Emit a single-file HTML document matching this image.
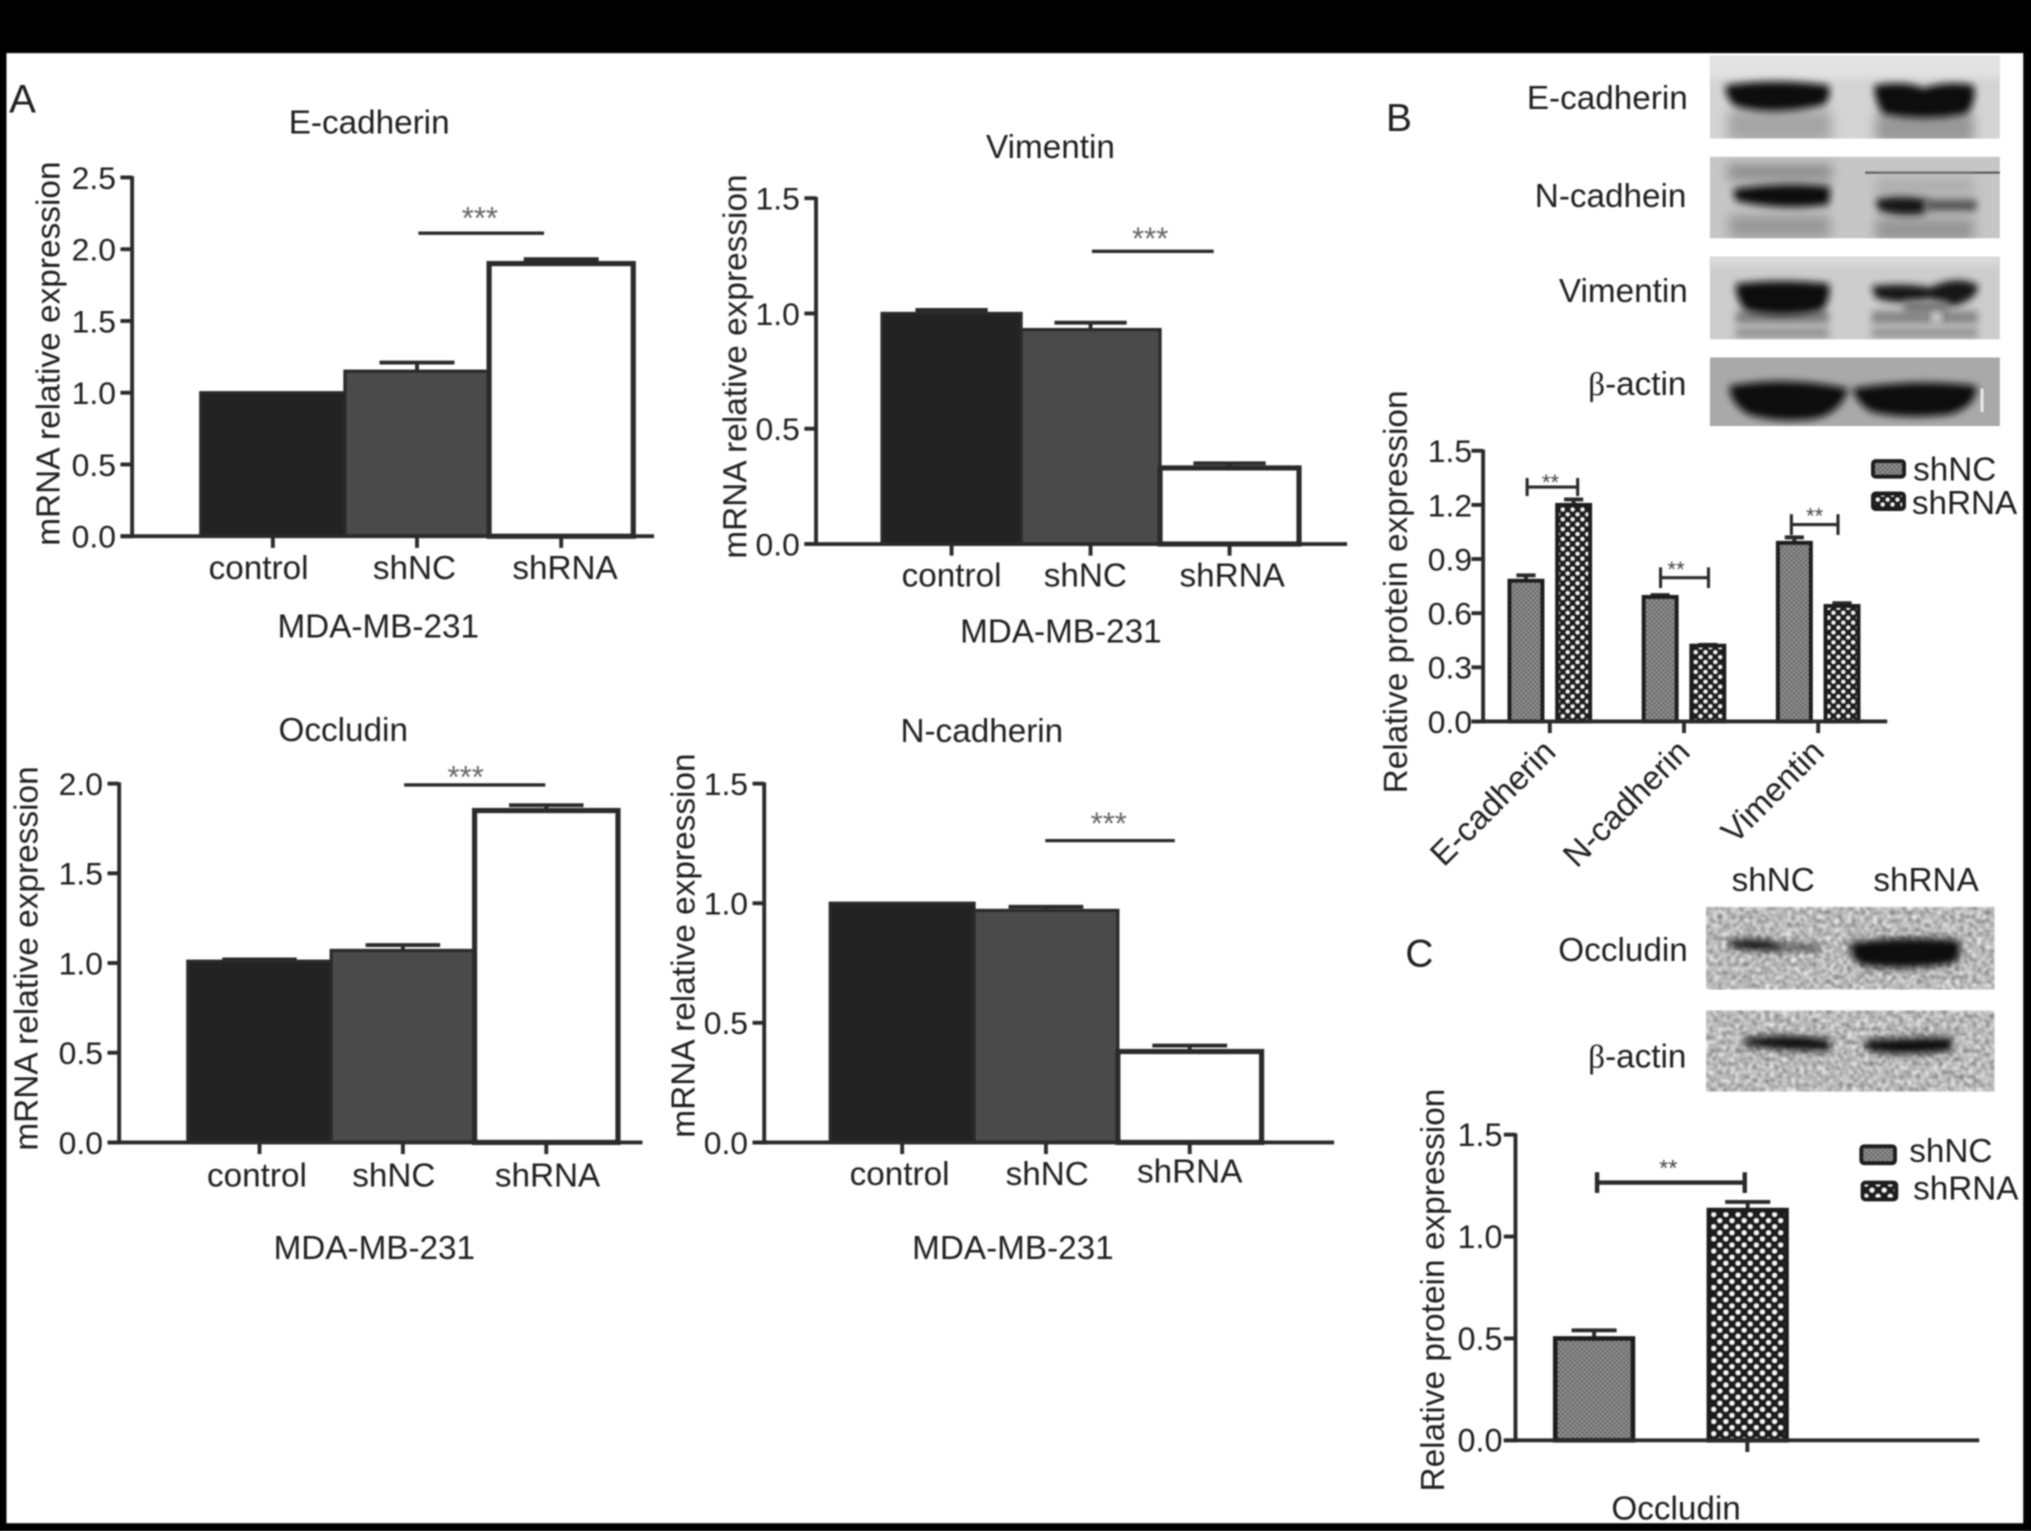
<!DOCTYPE html>
<html lang="en">
<head>
<meta charset="utf-8">
<title>mRNA and protein expression panels</title>
<style>
  html, body { margin: 0; padding: 0; background: #000; }
  body { width: 2031px; height: 1531px; overflow: hidden; }
  #figure { display: block; width: 2031px; height: 1531px; }
  #figure text { font-family: "Liberation Sans", "DejaVu Sans", sans-serif; fill: #202020; }
  #content { filter: blur(0.55px); }
</style>
</head>
<body>
<svg id="figure" viewBox="0 0 1568 1182" preserveAspectRatio="none">
  <defs>
    <filter id="soft" x="-30%" y="-60%" width="160%" height="220%"><feGaussianBlur stdDeviation="2.8"/></filter>
    <filter id="softer" x="-30%" y="-100%" width="160%" height="300%"><feGaussianBlur stdDeviation="4.5"/></filter>
    <filter id="noise" x="0" y="0" width="100%" height="100%" color-interpolation-filters="sRGB">
      <feTurbulence type="fractalNoise" baseFrequency="0.3" numOctaves="2" seed="7"/>
      <feColorMatrix type="matrix" values="0.85 0 0 0 0.3  0.85 0 0 0 0.3  0.85 0 0 0 0.3  0 0 0 0 1"/>
      <feGaussianBlur stdDeviation="0.8"/>
    </filter>
    <pattern id="fine-hatch" width="3.6" height="3.6" patternUnits="userSpaceOnUse">
      <rect width="3.6" height="3.6" fill="#959595"/>
      <rect width="1.8" height="1.8" fill="#666666"/>
      <rect x="1.8" y="1.8" width="1.8" height="1.8" fill="#666666"/>
    </pattern>
    <pattern id="dots-b" width="7.6" height="7.6" patternUnits="userSpaceOnUse">
      <rect width="7.6" height="7.6" fill="#1c1c1c"/>
      <circle cx="1.9" cy="1.9" r="1.75" fill="#f4f4f4"/>
      <circle cx="5.7" cy="5.7" r="1.75" fill="#f4f4f4"/>
    </pattern>
    <pattern id="dots-c" width="9.4" height="9.4" patternUnits="userSpaceOnUse">
      <rect width="9.4" height="9.4" fill="#1c1c1c"/>
      <circle cx="2.35" cy="2.35" r="2.1" fill="#f6f6f6"/>
      <circle cx="7.05" cy="7.05" r="2.1" fill="#f6f6f6"/>
    </pattern>
    <clipPath id="blot-e"><rect x="1320" y="43" width="224" height="64"/></clipPath>
    <clipPath id="blot-n"><rect x="1320" y="121" width="224" height="63"/></clipPath>
    <clipPath id="blot-v"><rect x="1320" y="198" width="224" height="64"/></clipPath>
    <clipPath id="blot-a"><rect x="1320" y="276" width="224" height="53"/></clipPath>
    <clipPath id="blot-o"><rect x="1317" y="700" width="223" height="64"/></clipPath>
    <clipPath id="blot-c"><rect x="1317" y="780" width="223" height="63"/></clipPath>
  </defs>
  <g id="content">
    <rect x="0" y="0" width="1568" height="1182" fill="#ffffff"/>

    <g id="blots">
      <g clip-path="url(#blot-e)">
        <rect x="1320" y="43" width="224" height="64" fill="#d4d4d4"/>
        <rect x="1315" y="38" width="234" height="22" fill="#e2e2e2" filter="url(#soft)"/>
        <rect x="1334" y="85" width="80" height="24" fill="#a4a4a4" filter="url(#softer)"/>
        <rect x="1448" y="87" width="76" height="24" fill="#989898" filter="url(#softer)"/>
        <path d="M1332 66 Q1370 60 1412 66 Q1414 76 1408 81 Q1370 90 1340 82 Q1332 76 1332 66Z" fill="#0d0d0d" filter="url(#soft)"/>
        <path d="M1447 66 Q1470 62 1485 68 Q1505 62 1524 66 Q1526 80 1518 88 Q1485 94 1454 88 Q1447 78 1447 66Z" fill="#0d0d0d" filter="url(#soft)"/>
      </g>
      <g clip-path="url(#blot-n)">
        <rect x="1320" y="121" width="224" height="63" fill="#c6c6c6"/>
        <rect x="1334" y="127" width="80" height="12" fill="#8a8a8a" filter="url(#softer)"/>
        <rect x="1335" y="166" width="78" height="18" fill="#989898" filter="url(#softer)"/>
        <rect x="1448" y="168" width="76" height="18" fill="#959595" filter="url(#softer)"/>
        <rect x="1440" y="132.5" width="104" height="1.6" fill="#555"/>
        <rect x="1448" y="137" width="76" height="14" fill="#adadad" filter="url(#softer)"/>
        <path d="M1338 146 Q1375 140 1413 144 L1412 158 Q1375 163 1340 155Z" fill="#111" filter="url(#soft)"/>
        <path d="M1448 154 Q1468 150 1488 154 L1486 165 Q1465 168 1450 162Z" fill="#161616" filter="url(#soft)"/>
        <rect x="1486" y="154" width="40" height="9" fill="#555" filter="url(#soft)"/>
      </g>
      <g clip-path="url(#blot-v)">
        <rect x="1320" y="198" width="224" height="64" fill="#cdcdcd"/>
        <rect x="1315" y="193" width="234" height="12" fill="#dadada" filter="url(#soft)"/>
        <rect x="1340" y="240" width="72" height="10" fill="#808080" filter="url(#soft)"/>
        <rect x="1340" y="253" width="72" height="8" fill="#929292" filter="url(#soft)"/>
        <rect x="1445" y="240" width="82" height="10" fill="#858585" filter="url(#soft)"/>
        <rect x="1445" y="253" width="82" height="8" fill="#959595" filter="url(#soft)"/>
        <path d="M1340 219 Q1375 215 1412 219 Q1414 232 1406 240 Q1375 246 1348 240 Q1340 232 1340 219Z" fill="#0e0e0e" filter="url(#soft)"/>
        <path d="M1445 221 Q1470 218 1490 222 Q1510 212 1527 220 Q1528 230 1510 236 Q1500 236 1490 231 Q1465 236 1448 230Z" fill="#121212" filter="url(#soft)"/>
        <rect x="1470" y="232" width="34" height="10" fill="#777" filter="url(#soft)"/>
        <circle cx="1495" cy="245" r="4" fill="#e4e4e4" filter="url(#soft)"/>
      </g>
      <g clip-path="url(#blot-a)">
        <rect x="1320" y="276" width="224" height="53" fill="#a9a9a9"/>
        <path d="M1335 298 Q1380 290 1427 300 Q1420 322 1395 324 Q1370 326 1350 320 Q1336 312 1335 298Z" fill="#0d0d0d" filter="url(#soft)"/>
        <path d="M1430 300 Q1480 292 1526 298 Q1526 314 1505 320 Q1470 324 1445 318 Q1434 312 1430 300Z" fill="#0d0d0d" filter="url(#soft)"/>
        <rect x="1529" y="300" width="2.4" height="18" fill="#e8e8e8"/>
      </g>
      <g clip-path="url(#blot-o)">
        <rect x="1317" y="700" width="223" height="64" fill="#bdbdbd" filter="url(#noise)"/>
        <path d="M1335 727 Q1355 722 1378 730 L1378 734 Q1350 734 1335 731Z" fill="#111" filter="url(#soft)"/>
        <rect x="1378" y="729" width="27" height="5" fill="#444" filter="url(#soft)"/>
        <path d="M1428 728 Q1470 722 1512 726 Q1516 738 1508 744 Q1470 750 1436 745 Q1428 738 1428 728Z" fill="#0a0a0a" filter="url(#soft)"/>
      </g>
      <g clip-path="url(#blot-c)">
        <rect x="1317" y="780" width="223" height="63" fill="#b6b6b6" filter="url(#noise)"/>
        <path d="M1346 802 Q1380 797 1413 803 L1413 811 Q1380 812 1346 807Z" fill="#111" filter="url(#soft)"/>
        <path d="M1440 803 Q1470 801 1507 801 L1507 811 Q1470 816 1441 811Z" fill="#111" filter="url(#soft)"/>
      </g>
    </g>

    <g id="charts"></g>

    <g>
      <rect x="0" y="0" width="1568" height="41" fill="#000"/>
      <rect x="0" y="0" width="5" height="1182" fill="#000"/>
      <rect x="1562" y="0" width="6" height="1182" fill="#000"/>
      <rect x="0" y="1176" width="1568" height="6" fill="#000"/>
    </g>
  </g>
</svg>
<script>
// ---- chart data ----
const groupLabels = ['control', 'shNC', 'shRNA'];

const ecadValues = [1.0, 1.15, 1.9];
const ecadErrors = [0, 0.06, 0.03];
const ecadTicks = ['0.0', '0.5', '1.0', '1.5', '2.0', '2.5'];

const vimValues = [1.0, 0.93, 0.33];
const vimErrors = [0.015, 0.03, 0.02];
const vimTicks = ['0.0', '0.5', '1.0', '1.5'];

const occValues = [1.01, 1.07, 1.85];
const occErrors = [0.01, 0.03, 0.03];
const occTicks = ['0.0', '0.5', '1.0', '1.5', '2.0'];

const ncadValues = [1.0, 0.97, 0.38];
const ncadErrors = [0, 0.015, 0.025];
const ncadTicks = ['0.0', '0.5', '1.0', '1.5'];

const proteinCategories = ['E-cadherin', 'N-cadherin', 'Vimentin'];
const proteinNcValues = [0.78, 0.69, 0.99];
const proteinNcErrors = [0.03, 0.01, 0.03];
const proteinRnaValues = [1.2, 0.42, 0.64];
const proteinRnaErrors = [0.03, 0.005, 0.015];
const proteinTicks = ['0.0', '0.3', '0.6', '0.9', '1.2', '1.5'];

const occludinCategory = ['Occludin'];
const occludinNcValues = [0.5];
const occludinNcErrors = [0.04];
const occludinRnaValues = [1.13];
const occludinRnaErrors = [0.04];
const occludinTicks = ['0.0', '0.5', '1.0', '1.5'];

// ---- helpers ----
const SVG_NS = 'http://www.w3.org/2000/svg';
const chartsRoot = document.getElementById('charts');
const INK = '#2a2a2a';
const TEXT_SIZE = 25.7;

function make(tag, attrs, parent) {
  const el = document.createElementNS(SVG_NS, tag);
  for (const k in attrs) el.setAttribute(k, attrs[k]);
  parent.appendChild(el);
  return el;
}
function line(parent, x1, y1, x2, y2, w) {
  return make('line', { x1: x1, y1: y1, x2: x2, y2: y2, stroke: INK, 'stroke-width': w }, parent);
}
function label(parent, str, x, y, size, anchor, rotate) {
  const attrs = { x: x, y: y, 'font-size': size, 'text-anchor': anchor || 'middle' };
  if (rotate) attrs.transform = 'rotate(' + rotate + ' ' + x + ' ' + y + ')';
  const el = make('text', attrs, parent);
  el.textContent = str;
  return el;
}
function linearY(value, cfg) {
  return cfg.y0 - (value / cfg.max) * (cfg.y0 - cfg.yTop);
}

function drawYAxis(g, cfg, ticks) {
  const axis = line(g, cfg.axisX, cfg.yTop - 1, cfg.axisX, cfg.y0 + 1.5, 3);
  
  
  ticks.forEach(function (t) {
    const y = linearY(parseFloat(t), cfg);
    const mark = line(g, cfg.axisX - 9, y, cfg.axisX, y, 3);
    
    
    const txt = label(g, t, cfg.axisX - cfg.tickGap, y + 8.8, cfg.tickFont, 'end');
    
    
  });
  const title = label(g, cfg.yTitle, cfg.yTitleX, cfg.yTitleY, cfg.yTitleFont, 'middle', -90);
  
  
}

function drawXAxis(g, cfg) {
  const axis = line(g, cfg.axisX - 9, cfg.y0, cfg.xEnd, cfg.y0, 3);
  
  
}

function drawErrorBar(g, cx, value, err, capW, cfg) {
  if (err <= 0) return;
  const yTop = linearY(value + err, cfg);
  const yBase = linearY(value, cfg);
  const stem = line(g, cx, yBase, cx, yTop, 3);
  
  
  const cap = line(g, cx - capW / 2, yTop, cx + capW / 2, yTop, 3);
  
  
}

function drawSignificanceLine(g, cfg) {
  const bar = line(g, cfg.sigX1, cfg.sigY, cfg.sigX2, cfg.sigY, 2.6);
  
  
  const stars = label(g, '***', (cfg.sigX1 + cfg.sigX2) / 2 + cfg.sigStarDx, cfg.sigY - cfg.sigStarUp, 24, 'middle');
  
  
  stars.style.fill = '#666';
}

function drawMrnaPanel(cfg, values, errors, ticks) {
  const g = make('g', {}, chartsRoot);
  
  

  const fills = ['#232323', '#4a4a4a', '#ffffff'];
  groupLabels.forEach(function (cat, i) {
    const x = cfg.barLeft + i * cfg.barStep;
    const cx = x + cfg.barStep / 2;
    drawErrorBar(g, cx, values[i], errors[i], cfg.barStep * 0.52, cfg);
    const yTop = linearY(values[i], cfg);
    const rect = make('rect', {
      x: x, y: yTop, width: cfg.barStep, height: cfg.y0 - yTop,
      fill: fills[i], stroke: INK, 'stroke-width': i === 2 ? 4 : 2.5
    }, g);
    
    
    const tick = line(g, cx, cfg.y0, cx, cfg.y0 + 9, 3);
    
    
    const txt = label(g, cat, cx + cfg.labelNudge[i], cfg.labelY + cfg.labelLift[i], TEXT_SIZE, 'middle');
    
    
  });

  drawYAxis(g, cfg, ticks);
  drawXAxis(g, cfg);
  drawSignificanceLine(g, cfg);

  const title = label(g, cfg.title, cfg.titleX, cfg.titleY, TEXT_SIZE, 'middle');
  
  
  const cell = label(g, 'MDA-MB-231', cfg.xTitleX, cfg.xTitleY, TEXT_SIZE, 'middle');
  
  
}

function drawBracket(g, x1, x2, y, capH, w, starX, starY, starSize) {
  const main = line(g, x1, y, x2, y, w);
  
  
  const left = line(g, x1, y - capH, x1, y + capH, w);
  
  
  const right = line(g, x2, y - capH, x2, y + capH, w);
  
  
  const stars = label(g, '**', starX, starY, starSize, 'middle');
  
  
  stars.style.fill = '#444';
}

function drawLegend(g, cfg, dotsId) {
  const a = make('rect', { x: cfg.lx1, y: cfg.ly1, width: cfg.lw, height: cfg.lh, rx: 2, fill: 'url(#fine-hatch)', stroke: '#1c1c1c', 'stroke-width': 3 }, g);
  
  
  const at = label(g, 'shNC', cfg.lt1, cfg.lb1, TEXT_SIZE, 'start');
  
  
  const b = make('rect', { x: cfg.lx2, y: cfg.ly2, width: cfg.lw, height: cfg.lh, rx: 2, fill: 'url(#' + dotsId + ')', stroke: '#1c1c1c', 'stroke-width': 3 }, g);
  
  
  const bt = label(g, 'shRNA', cfg.lt2, cfg.lb2, TEXT_SIZE, 'start');
  
  
}

function drawGroupedBars(g, cfg, categories, ncValues, ncErrors, rnaValues, rnaErrors, dotsId) {
  categories.forEach(function (cat, i) {
    const center = cfg.groupStart + i * cfg.groupStep;
    [[ncValues[i], ncErrors[i], -1, 'url(#fine-hatch)', 'shNC'],
     [rnaValues[i], rnaErrors[i], 1, 'url(#' + dotsId + ')', 'shRNA']].forEach(function (s) {
      const cx = center + s[2] * cfg.barOffset;
      drawErrorBar(g, cx, s[0], s[1], cfg.barW * 0.58, cfg);
      const yTop = linearY(s[0], cfg);
      const rect = make('rect', {
        x: cx - cfg.barW / 2, y: yTop, width: cfg.barW, height: cfg.y0 - yTop,
        fill: s[3], stroke: '#1c1c1c', 'stroke-width': cfg.barStroke
      }, g);
      
      
    });
    const tick = line(g, center + cfg.tickDx, cfg.y0, center + cfg.tickDx, cfg.y0 + 9, 3);
    
    
  });
}

function betaLabel(parent, x, y) {
  const el = make('text', { x: x, y: y, 'font-size': TEXT_SIZE, 'text-anchor': 'end' }, parent);
  const glyph = make('tspan', { 'font-family': '"Liberation Serif", serif' }, el);
  glyph.style.fontFamily = '"Liberation Serif", serif';
  glyph.textContent = '\u03B2';
  const rest = make('tspan', {}, el);
  rest.textContent = '-actin';
  return el;
}

// ---- panel A ----
drawMrnaPanel({
  name: 'chart-e-cadherin-mrna', title: 'E-cadherin', titleX: 285, titleY: 103,
  axisX: 102, y0: 414, yTop: 137, max: 2.5, xEnd: 505, tickFont: 24.6, tickGap: 12.5,
  barLeft: 155, barStep: 111.3, labelY: 447, labelNudge: [-11, -2, 3], labelLift: [0, 0, 0],
  yTitle: 'mRNA relative expression', yTitleX: 46, yTitleY: 273, yTitleFont: 25.8,
  sigX1: 323, sigX2: 420, sigY: 180, sigStarDx: -1, sigStarUp: 3.5,
  xTitleX: 292, xTitleY: 492
}, ecadValues, ecadErrors, ecadTicks);

drawMrnaPanel({
  name: 'chart-vimentin-mrna', title: 'Vimentin', titleX: 811, titleY: 122,
  axisX: 630, y0: 420, yTop: 153, max: 1.5, xEnd: 1040, tickFont: 24.6, tickGap: 12.5,
  barLeft: 681, barStep: 107.3, labelY: 453, labelNudge: [0, -4, 2], labelLift: [0, 0, 0],
  yTitle: 'mRNA relative expression', yTitleX: 576, yTitleY: 283, yTitleFont: 25.8,
  sigX1: 843, sigX2: 937, sigY: 194, sigStarDx: -2, sigStarUp: 1.7,
  xTitleX: 819, xTitleY: 496
}, vimValues, vimErrors, vimTicks);

drawMrnaPanel({
  name: 'chart-occludin-mrna', title: 'Occludin', titleX: 265, titleY: 572,
  axisX: 92, y0: 882, yTop: 605, max: 2.0, xEnd: 496, tickFont: 24.6, tickGap: 12.5,
  barLeft: 145, barStep: 110.7, labelY: 916, labelNudge: [-2, -7, 1], labelLift: [0, 0, 0],
  yTitle: 'mRNA relative expression', yTitleX: 29, yTitleY: 740, yTitleFont: 25.8,
  sigX1: 312, sigX2: 421, sigY: 606, sigStarDx: -7, sigStarUp: -2,
  xTitleX: 289, xTitleY: 972
}, occValues, occErrors, occTicks);

drawMrnaPanel({
  name: 'chart-n-cadherin-mrna', title: 'N-cadherin', titleX: 758, titleY: 573,
  axisX: 590, y0: 882, yTop: 605, max: 1.5, xEnd: 1030, tickFont: 24.6, tickGap: 12.5,
  barLeft: 641, barStep: 111, labelY: 915, labelNudge: [-2, 1, 0], labelLift: [0, 0, -2],
  yTitle: 'mRNA relative expression', yTitleX: 536, yTitleY: 730, yTitleFont: 25.8,
  sigX1: 807, sigX2: 907, sigY: 649, sigStarDx: -1, sigStarUp: 5,
  xTitleX: 782, xTitleY: 972
}, ncadValues, ncadErrors, ncadTicks);

// ---- panel B protein chart ----
const panelBConfig = {
  axisX: 1145, y0: 557, yTop: 348, max: 1.5, xEnd: 1457, tickFont: 24.6, tickGap: 8.5,
  groupStart: 1196.5, groupStep: 103.6, barOffset: 18.4, barW: 25.5, barStroke: 3, tickDx: 0,
  yTitle: 'Relative protein expression', yTitleX: 1086, yTitleY: 457, yTitleFont: 25.8,
  lx1: 1446, ly1: 356, lx2: 1446, ly2: 381, lw: 24, lh: 12,
  lt1: 1477, lb1: 371, lt2: 1476, lb2: 397
};
const panelB = make('g', {}, chartsRoot);


drawGroupedBars(panelB, panelBConfig, proteinCategories, proteinNcValues, proteinNcErrors, proteinRnaValues, proteinRnaErrors, 'dots-b');
drawYAxis(panelB, panelBConfig, proteinTicks);
drawXAxis(panelB, panelBConfig);
drawLegend(panelB, panelBConfig, 'dots-b');
proteinCategories.forEach(function (cat, i) {
  const center = panelBConfig.groupStart + i * panelBConfig.groupStep;
  const txt = label(panelB, cat, center + 6, 582, TEXT_SIZE, 'end', -45);
  
  
});
drawBracket(panelB, 1179, 1218, 376, 7, 2.4, 1197, 378.5, 17);
drawBracket(panelB, 1282, 1319, 446, 8, 2.4, 1294, 445.5, 17);
drawBracket(panelB, 1383, 1419, 405, 8, 2.4, 1401, 404, 17);

// ---- panel C protein chart ----
const panelCConfig = {
  axisX: 1170, y0: 1112, yTop: 876, max: 1.5, xEnd: 1528, tickFont: 25, tickGap: 10,
  groupStart: 1290, groupStep: 0, barOffset: 59.3, barW: 60, barStroke: 3.5, tickDx: 59,
  yTitle: 'Relative protein expression', yTitleX: 1115, yTitleY: 996, yTitleFont: 25.8,
  lx1: 1437, ly1: 885, lx2: 1438, ly2: 913, lw: 26, lh: 13,
  lt1: 1474, lb1: 897, lt2: 1477, lb2: 926
};
const panelC = make('g', {}, chartsRoot);


drawGroupedBars(panelC, panelCConfig, occludinCategory, occludinNcValues, occludinNcErrors, occludinRnaValues, occludinRnaErrors, 'dots-c');
drawYAxis(panelC, panelCConfig, occludinTicks);
drawXAxis(panelC, panelCConfig);
drawLegend(panelC, panelCConfig, 'dots-c');
const occXLabel = label(panelC, occludinCategory[0], 1294, 1173, TEXT_SIZE, 'middle');


drawBracket(panelC, 1233, 1347, 913, 8, 3.4, 1288, 908, 18);

// ---- panel letters and blot labels ----
const annotations = make('g', {}, chartsRoot);



const letterA = label(annotations, 'A', 7, 87, 31, 'start');


const letterB = label(annotations, 'B', 1070, 101, 30, 'start');


const letterC = label(annotations, 'C', 1085, 746, 30, 'start');



const blotE = label(annotations, 'E-cadherin', 1303, 84, TEXT_SIZE, 'end');


const blotN = label(annotations, 'N-cadhein', 1302, 160, TEXT_SIZE, 'end');


const blotV = label(annotations, 'Vimentin', 1303, 233, TEXT_SIZE, 'end');


const blotA = betaLabel(annotations, 1302, 305);


const laneNc = label(annotations, 'shNC', 1369, 688, TEXT_SIZE, 'middle');


const laneRna = label(annotations, 'shRNA', 1487, 688, TEXT_SIZE, 'middle');


const blotO = label(annotations, 'Occludin', 1303, 742, TEXT_SIZE, 'end');


const blotA2 = betaLabel(annotations, 1302, 824);


</script>
</body>
</html>
